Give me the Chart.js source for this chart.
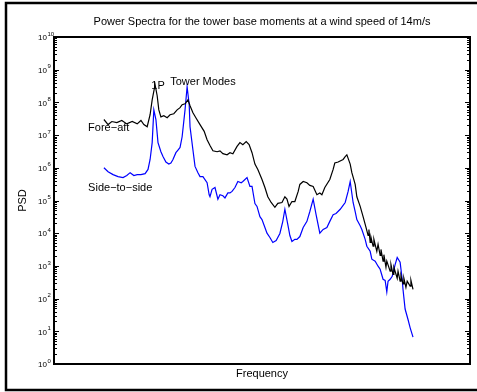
<!DOCTYPE html>
<html>
<head>
<meta charset="utf-8">
<title>Tower base moment spectra</title>
<script src="https://cdn.jsdelivr.net/npm/chart.js@4/dist/chart.umd.min.js"></script>
<style>
  html, body { margin: 0; padding: 0; background: #fff; }
  #chart { display: block; }
</style>
</head>
<body>
<canvas id="chart" width="477" height="392"></canvas>
<script>
/* ===== data ===== */
// fore-aft tower base moment spectrum
var foreAftFreq = [0.120,0.130,0.139,0.151,0.163,0.175,0.188,0.200,0.209,0.216,0.224,0.231,0.236,0.243,0.248,0.252,0.257,0.264,0.272,0.279,
  0.288,0.296,0.303,0.308,0.315,0.322,0.327,0.334,0.341,0.351,0.361,0.368,0.375,0.382,0.392,0.399,0.406,0.416,0.423,0.430,
  0.440,0.447,0.454,0.462,0.469,0.476,0.483,0.490,0.500,0.507,0.514,0.522,0.531,0.538,0.548,0.555,0.560,0.565,0.572,0.579,
  0.587,0.591,0.599,0.608,0.615,0.623,0.632,0.639,0.644,0.651,0.663,0.671,0.675,0.683,0.695,0.700,0.704,0.712,0.716,0.724,
  0.728,0.736,0.743,
  0.750,0.755,0.757,0.760,0.762,0.767,0.769,0.776,0.779,0.784,0.786,0.791,0.793,0.798,0.800,0.808,0.810,0.815,0.817,0.825,
  0.827,0.832,0.834,0.839,0.841,0.846,0.849,0.856,0.858,0.863];
var foreAftPsd = [3.0e7,2.1e7,2.6e7,2.4e7,2.8e7,2.2e7,2.6e7,2.2e7,2.8e7,2.1e7,1.8e7,4.2e7,1.2e8,3.5e8,1.6e8,5.9e7,3.6e7,3.9e7,3.4e7,4.2e7,
  4.5e7,5.9e7,6.9e7,8.5e7,9.1e7,1.2e8,7.9e7,4.8e7,3.4e7,2.1e7,1.3e7,7.2e6,4.8e6,3.3e6,3.1e6,3.3e6,2.7e6,2.5e6,2.9e6,2.7e6,
  4.5e6,5.9e6,5.1e6,6.3e6,5.1e6,2.9e6,1.3e6,8.9e5,4.4e5,2.5e5,1.3e5,8.7e4,6.2e4,8.2e4,8.7e4,1.3e5,1.1e5,6.6e4,9.3e4,9.3e4,
  1.9e5,3.1e5,3.8e5,3.5e5,2.9e5,2.7e5,1.5e5,1.7e5,1.5e5,2.5e5,4.4e5,8.9e5,1.4e6,1.5e6,1.8e6,2.2e6,2.5e6,1.3e6,7.1e5,3.1e5,
  1.3e5,6.6e4,3.2e4,
  1.5e4,8.5e3,1.3e4,5.2e3,7.4e3,4.0e3,6.5e3,2.8e3,4.6e3,2.1e3,3.2e3,1.4e3,2.2e3,9.1e2,1.4e3,6.9e2,1.1e3,5.5e2,9.1e2,4.2e2,
  6.9e2,3.4e2,5.1e2,2.8e2,4.2e2,2.2e2,3.4e2,2.4e2,3.6e2,1.9e2];

// side-to-side tower base moment spectrum
var sideFreq = [0.120,0.130,0.142,0.154,0.166,0.175,0.183,0.192,0.200,0.209,0.219,0.226,0.231,0.236,0.240,0.245,0.250,0.257,0.262,0.269,
  0.276,0.281,0.286,0.293,0.298,0.303,0.308,0.315,0.320,0.325,0.327,0.334,0.339,0.346,0.351,0.358,0.368,0.373,0.375,0.380,
  0.387,0.394,0.399,0.406,0.411,0.418,0.423,0.428,0.435,0.442,0.450,0.454,0.464,0.471,0.476,0.483,0.488,0.495,0.500,0.507,
  0.512,0.519,0.526,0.534,0.543,0.550,0.555,0.563,0.567,0.572,0.579,0.584,0.591,0.599,0.608,0.615,0.623,0.630,0.639,0.647,
  0.656,0.663,0.671,0.678,0.688,0.695,0.700,0.707,0.712,0.719,0.724,0.728,0.736,0.740,0.748,0.752,0.760,0.764,0.772,0.779,
  0.784,0.791,0.796,0.800,0.803,0.808,0.813,0.820,0.825,0.832,0.837,0.839,0.844,0.851,0.856,0.863];
var sidePsd = [1.0e6,7.6e5,6.2e5,5.4e5,5.0e5,5.8e5,7.1e5,5.8e5,6.2e5,6.2e5,6.6e5,8.9e5,1.8e6,5.9e6,5.9e7,3.0e7,5.9e6,3.1e6,2.2e6,1.5e6,
  1.3e6,1.4e6,1.8e6,2.9e6,3.5e6,4.2e6,8.9e6,5.9e7,3.0e8,8.5e7,1.8e7,3.5e6,1.1e6,7.1e5,5.4e5,5.4e5,3.5e5,1.5e5,1.3e5,2.2e5,
  2.5e5,1.1e5,1.5e5,1.4e5,1.2e5,1.7e5,1.7e5,1.9e5,2.5e5,3.8e5,3.5e5,3.8e5,5.0e5,2.7e5,2.7e5,8.1e4,6.6e4,3.2e4,2.6e4,1.5e4,
  1.0e4,7.4e3,5.2e3,6.0e3,9.8e3,2.3e4,5.4e4,1.6e4,8.5e3,5.6e3,6.5e3,6.5e3,7.9e3,1.5e4,2.3e4,4.6e4,1.1e5,3.7e4,1.0e4,1.3e4,
  1.5e4,2.3e4,3.7e4,4.0e4,5.4e4,7.1e4,8.7e4,1.9e5,3.8e5,8.7e4,4.6e4,2.6e4,1.7e4,1.3e4,6.5e3,4.0e3,2.8e3,1.6e3,1.4e3,9.8e2,
  7.9e2,3.9e2,3.6e2,1.6e2,3.4e2,3.9e2,4.8e2,1.1e3,1.8e3,1.3e3,3.9e2,1.9e2,48,23,13,6.6];

// y axis decades, labelled 10^0 .. 10^10
var decadeExponents = [0,1,2,3,4,5,6,7,8,9,10];

// text placed inside the axes
var notes = [
  { text: "1P",           f: 0.250, psd: 3.2e8, align: "center" },
  { text: "Tower Modes",  f: 0.358, psd: 4.3e8, align: "center" },
  { text: "Fore\u2212aft",     f: 0.082, psd: 1.7e7, align: "left" },
  { text: "Side\u2212to\u2212side", f: 0.082, psd: 2.5e5, align: "left" }
];

var FONT = '"Liberation Sans", Arial, Helvetica, sans-serif';

function pairs(xs, ys) {
  return xs.map(function (x, i) { return { x: x, y: ys[i] }; });
}

/* ===== matlab-ish axes drawing ===== */
var axesBox = {
  id: 'axesBox',
  beforeDraw: function (chart) {
    var c = chart.ctx, w = chart.width;
    c.save();
    c.fillStyle = '#fff';
    c.fillRect(0, 0, w, chart.height);
    // figure border
    c.strokeStyle = '#000';
    c.lineWidth = 2.5;
    c.beginPath();
    c.moveTo(w, 3);
    c.lineTo(6, 3);
    c.lineTo(6, 390);
    c.lineTo(w, 390);
    c.stroke();
    c.restore();
  },
  afterDraw: function (chart) {
    var c = chart.ctx, a = chart.chartArea, ys = chart.scales.y, xs = chart.scales.x;
    c.save();
    c.strokeStyle = '#000';
    c.lineWidth = 1;
    // minor and major ticks, pointing inward on both sides
    decadeExponents.forEach(function (k) {
      var py = Math.round(ys.getPixelForValue(Math.pow(10, k))) + 0.5;
      c.beginPath();
      c.moveTo(a.left, py); c.lineTo(a.left + 5, py);
      c.moveTo(a.right, py); c.lineTo(a.right - 5, py);
      c.stroke();
      if (k < 10) {
        for (var m = 2; m <= 9; m++) {
          var pm = Math.round(ys.getPixelForValue(m * Math.pow(10, k))) + 0.5;
          c.beginPath();
          c.moveTo(a.left, pm); c.lineTo(a.left + 3, pm);
          c.moveTo(a.right, pm); c.lineTo(a.right - 3, pm);
          c.stroke();
        }
      }
    });
    // box
    c.lineWidth = 2;
    c.strokeRect(a.left, a.top, a.right - a.left, a.bottom - a.top);

    // tick labels 10^k
    c.fillStyle = '#000';
    c.textBaseline = 'middle';
    decadeExponents.forEach(function (k) {
      var py = ys.getPixelForValue(Math.pow(10, k));
      c.font = '8px ' + FONT;
      c.textAlign = 'right';
      c.fillText('10', a.left - 7, py + 1);
      c.font = '6px ' + FONT;
      c.textAlign = 'left';
      c.fillText(String(k), a.left - 6.5, py - 3);
    });

    // title and axis labels
    var cx = (a.left + a.right) / 2;
    c.font = '11px ' + FONT;
    c.textAlign = 'center';
    c.fillText('Power Spectra for the tower base moments at a wind speed of 14m/s', cx, 22);
    c.fillText('Frequency', cx, a.bottom + 10);
    c.save();
    c.translate(23, (a.top + a.bottom) / 2);
    c.rotate(-Math.PI / 2);
    c.fillText('PSD', 0, 0);
    c.restore();

    // notes inside the axes
    notes.forEach(function (n) {
      c.textAlign = n.align;
      c.fillText(n.text, xs.getPixelForValue(n.f), ys.getPixelForValue(n.psd));
    });
    c.restore();
  }
};

/* ===== chart ===== */
var ctx = document.getElementById('chart');
var chart = new Chart(ctx, {
  type: 'line',
  data: {
    datasets: [{
      label: 'Fore-aft',
      data: pairs(foreAftFreq, foreAftPsd),
      borderColor: '#000000',
      borderWidth: 1.2,
      pointRadius: 0,
      tension: 0,
      fill: false
    }, {
      label: 'Side-to-side',
      data: pairs(sideFreq, sidePsd),
      borderColor: '#0000ff',
      borderWidth: 1.2,
      pointRadius: 0,
      tension: 0,
      fill: false
    }]
  },
  options: {
    responsive: false,
    animation: false,
    devicePixelRatio: 1,
    layout: { padding: { left: 54, top: 37, right: 7, bottom: 28 } },
    plugins: {
      legend: { display: false },
      title: { display: false },
      tooltip: { enabled: false }
    },
    scales: {
      x: { type: 'linear', min: 0, max: 1, display: false },
      y: { type: 'logarithmic', min: 1, max: 1e10, display: false }
    }
  },
  plugins: [axesBox]
});
</script>
</body>
</html>
